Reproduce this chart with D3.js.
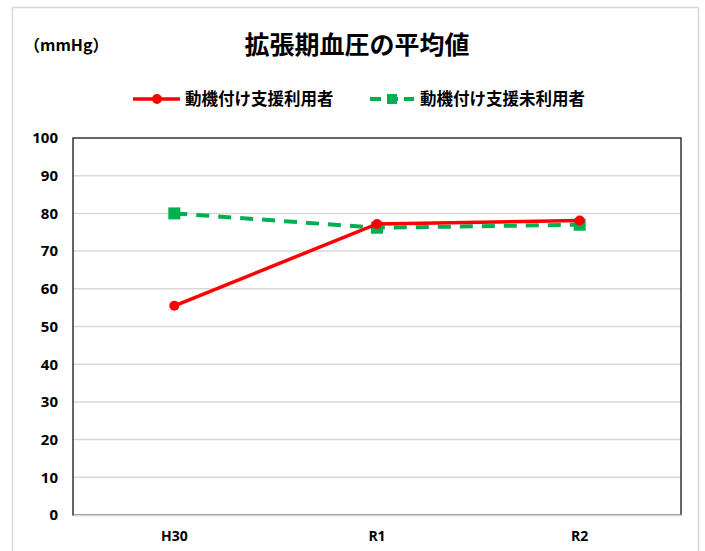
<!DOCTYPE html>
<html><head><meta charset="utf-8">
<script src="https://cdn.jsdelivr.net/npm/d3@7"></script>
<style>body{margin:0;background:#fff;}svg{display:block;font-family:"Noto Sans CJK JP","Open Sans",sans-serif;}</style>
</head><body><svg id="c" width="705" height="551"></svg>
<script>
const categories = ["H30", "R1", "R2"];
const seriesNames = ["動機付け支援利用者", "動機付け支援未利用者"];
const usedValues = [55.5, 77.2, 78.1];
const unusedValues = [80.0, 76.2, 77.0];
const yTicks = [0,10,20,30,40,50,60,70,80,90,100];

const svg = d3.select("#c");
const m = {left:73, top:138, right:681, bottom:515};
svg.append("rect").attr("x",12.5).attr("y",7.5).attr("width",686).attr("height",560)
  .attr("fill","#fff").attr("stroke","#d9d9d9").attr("stroke-width",1.5);

const x = d3.scaleBand().domain(categories).range([m.left,m.right]);
const y = d3.scaleLinear().domain([0,100]).range([m.bottom,m.top]);

svg.append("g").selectAll("line").data(yTicks.filter(d=>d>0&&d<100)).join("line")
  .attr("x1",m.left).attr("x2",m.right).attr("y1",d=>y(d)).attr("y2",d=>y(d))
  .attr("stroke","#d9d9d9").attr("stroke-width",1.5);

svg.append("rect").attr("x",m.left).attr("y",m.top).attr("width",m.right-m.left).attr("height",m.bottom-m.top)
  .attr("fill","none").attr("stroke","#000").attr("stroke-width",1.2);

const ya = svg.append("g").attr("transform",`translate(${m.left},0)`)
  .call(d3.axisLeft(y).tickValues(yTicks).tickSize(0).tickPadding(15));
ya.select(".domain").remove();
ya.selectAll("text").attr("font-size",15).attr("font-weight","bold").attr("fill","#000")
  .attr("font-family","'Open Sans',sans-serif");

const xa = svg.append("g").attr("transform",`translate(0,${m.bottom})`)
  .call(d3.axisBottom(x).tickSize(0).tickPadding(16));
xa.select(".domain").attr("stroke","#d9d9d9").attr("stroke-width",2);
xa.selectAll("text").attr("font-size",14).attr("font-weight","bold").attr("fill","#000")
  .attr("font-family","'Open Sans',sans-serif");

const line = d3.line().x((d,i)=>x(categories[i])+x.bandwidth()/2).y(d=>y(d));
const red = "#ff0000", green = "#00b050";

svg.append("path").attr("d",line(unusedValues)).attr("fill","none").attr("stroke",green)
  .attr("stroke-width",4).attr("stroke-dasharray","13,9");
svg.append("g").selectAll("rect").data(unusedValues).join("rect")
  .attr("x",(d,i)=>x(categories[i])+x.bandwidth()/2-6).attr("y",d=>y(d)-6)
  .attr("width",12).attr("height",12).attr("fill",green);

svg.append("path").attr("d",line(usedValues)).attr("fill","none").attr("stroke",red)
  .attr("stroke-width",3.5);
svg.append("g").selectAll("circle").data(usedValues).join("circle")
  .attr("cx",(d,i)=>x(categories[i])+x.bandwidth()/2).attr("cy",d=>y(d)).attr("r",5).attr("fill",red);

svg.append("text").attr("x",357).attr("y",54).attr("text-anchor","middle")
  .attr("font-size",25).attr("font-weight","bold").text("拡張期血圧の平均値");
svg.append("text").attr("x",24).attr("y",51).attr("font-size",16).attr("font-weight","bold").text("（mmHg）");

const lg = svg.append("g");
lg.append("line").attr("x1",133).attr("x2",180).attr("y1",99).attr("y2",99).attr("stroke",red).attr("stroke-width",3.5);
lg.append("circle").attr("cx",157).attr("cy",99).attr("r",5).attr("fill",red);
lg.append("text").attr("x",185).attr("y",105).attr("font-size",16.5).attr("font-weight","bold").text(seriesNames[0]);
lg.append("line").attr("x1",370).attr("x2",414).attr("y1",99).attr("y2",99).attr("stroke",green).attr("stroke-width",4).attr("stroke-dasharray","11,6");
lg.append("rect").attr("x",387).attr("y",94).attr("width",10).attr("height",10).attr("fill",green);
lg.append("text").attr("x",420).attr("y",105).attr("font-size",16.5).attr("font-weight","bold").text(seriesNames[1]);
</script></body></html>
